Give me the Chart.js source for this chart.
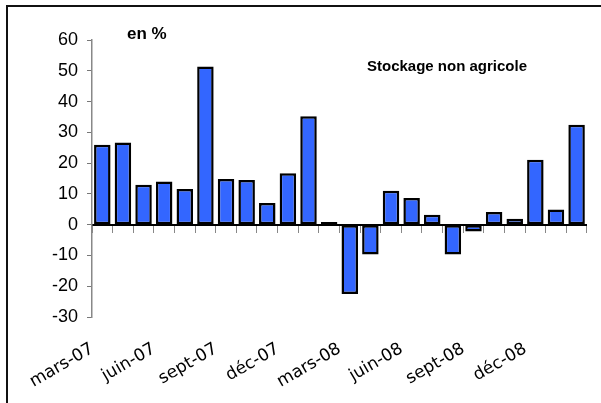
<!DOCTYPE html>
<html>
<head>
<meta charset="utf-8">
<script src="https://cdn.jsdelivr.net/npm/chart.js@4"></script>
<style>
  html, body { margin: 0; background: #fff; overflow: hidden; }
  canvas { display: block; }
</style>
</head>
<body>
<canvas id="chart" width="601" height="403"></canvas>
<script>
'use strict';

const months = [
  'mars-07', 'avr-07', 'mai-07', 'juin-07', 'juil-07', 'août-07',
  'sept-07', 'oct-07', 'nov-07', 'déc-07', 'janv-08', 'févr-08',
  'mars-08', 'avr-08', 'mai-08', 'juin-08', 'juil-08', 'août-08',
  'sept-08', 'oct-08', 'nov-08', 'déc-08', 'janv-09', 'févr-09'
];
const stockage = [
  26.0, 26.7, 13.0, 14.0, 11.6, 51.4,
  14.8, 14.5, 7.0, 16.7, 35.2, 0.9,
  -22.5, -9.7, 11.0, 8.7, 3.2, -9.7,
  -2.2, 4.1, 1.9, 21.1, 4.9, 32.5
];
const yTicks = [-30, -20, -10, 0, 10, 20, 30, 40, 50, 60];
const unitLabel = 'en %';
const seriesTitle = 'Stockage non agricole';

// frame (left + top edges only) and the two free-floating captions
const decorations = {
  id: 'decorations',
  afterDraw(chart) {
    const ctx = chart.ctx;
    ctx.save();
    ctx.strokeStyle = '#111';
    ctx.lineWidth = 2;
    ctx.beginPath();
    ctx.moveTo(7, chart.height);
    ctx.lineTo(7, 6);
    ctx.lineTo(chart.width, 6);
    ctx.stroke();

    ctx.fillStyle = '#000';
    ctx.textBaseline = 'alphabetic';
    ctx.textAlign = 'left';
    ctx.font = 'bold 17px "Liberation Sans", Arial, sans-serif';
    ctx.fillText(unitLabel, 127, 39);
    ctx.font = 'bold 15px "Liberation Sans", Arial, sans-serif';
    ctx.fillText(seriesTitle, 367, 71);
    ctx.restore();
  }
};

const ctx = document.getElementById('chart').getContext('2d');
new Chart(ctx, {
  type: 'bar',
  data: {
    labels: months,
    datasets: [{
      label: seriesTitle,
      data: stockage,
      backgroundColor: '#3366ff',
      borderColor: '#000',
      borderWidth: 2.5,
      borderSkipped: false,
      barPercentage: 0.8,
      categoryPercentage: 1,
      xAxisID: 'x',
    }]
  },
  options: {
    responsive: false,
    animation: false,
    layout: {
      padding: { top: 40, right: 10, bottom: 0, left: 0 }
    },
    plugins: {
      legend: { display: false },
      tooltip: { enabled: false },
    },
    scales: {
      x: {
        position: 'bottom',
        afterFit: (scale) => { scale.height = 86; },
        grid: { display: false },
        border: { display: false },
        ticks: {
          autoSkip: false,
          minRotation: 30,
          maxRotation: 30,
          labelOffset: -10,
          padding: 14,
          color: '#000',
          font: { family: '"DejaVu Sans", Verdana, sans-serif', size: 17 },
          callback: function (value, index) {
            return index % 3 === 0 ? this.getLabelForValue(value) : '';
          },
        },
      },
      xZero: {
        type: 'category',
        position: { y: 0 },
        grid: {
          drawOnChartArea: false,
          drawTicks: true,
          tickLength: 7,
          tickColor: '#888',
          offset: true,
        },
        border: { color: '#000', width: 2 },
        ticks: { display: false },
      },
      y: {
        min: -30,
        max: 60,
        afterFit: (scale) => { scale.width = 92; },
        afterBuildTicks: (scale) => { scale.ticks = yTicks.map(v => ({ value: v })); },
        grid: {
          drawOnChartArea: false,
          tickLength: 5,
          tickColor: '#777',
        },
        border: { color: '#888', width: 1.5 },
        ticks: {
          padding: 9,
          color: '#000',
          font: { family: '"Liberation Sans", Arial, sans-serif', size: 18 },
        },
      },
    },
  },
  plugins: [decorations],
});
</script>
</body>
</html>
